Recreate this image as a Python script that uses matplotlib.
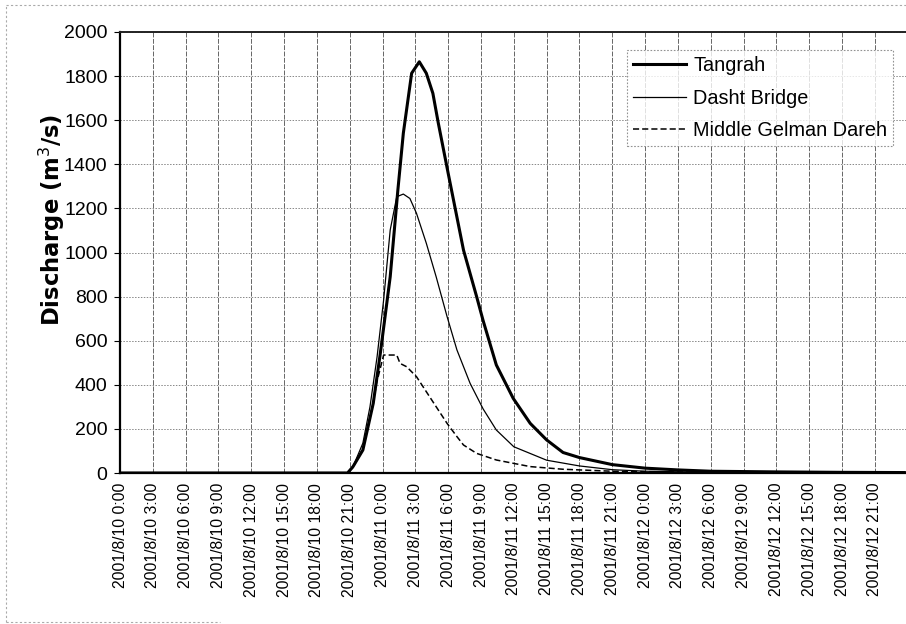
import matplotlib
matplotlib.use("Agg")
import matplotlib.pyplot as plt
from matplotlib.lines import Line2D

plt.rcParams['font.family'] = ['Liberation Sans', 'DejaVu Sans']

# hours since 2001/8/10 0:00
tangrah_h = [0, 20.8, 21.3, 22.2, 23.15, 23.8, 24.7, 25.4, 25.9, 26.66, 27.36, 28.0, 28.6, 29.1,
             30.0, 31.4, 32.6, 33.2, 34.4, 35.95, 37.5, 39, 40.5, 42, 45, 48, 51, 54, 60, 66, 71.7]
tangrah_q = [0, 0, 29, 104, 316, 544, 890, 1283, 1541, 1813, 1865, 1813, 1722, 1586,
             1359, 1011, 800, 690, 490, 338, 225, 150, 93, 70, 38, 22, 14, 8, 5, 3, 2]

dasht_h = [0, 20.8, 21.3, 22.2, 22.85, 23.5, 24.1, 24.7, 25.3, 25.9, 26.5, 27.1, 28.0, 28.9,
           29.9, 30.8, 32.0, 33.2, 34.4, 36.0, 39, 42, 45, 48, 54, 60, 71.7]
dasht_q = [0, 0, 29, 135, 300, 527, 785, 1102, 1253, 1265, 1245, 1178, 1042, 890,
           709, 558, 407, 290, 195, 119, 58, 32, 15, 8, 3, 1, 0]

middle_h = [0, 20.8, 21.3, 22.2, 23.15, 23.45, 24.1, 25.3, 25.6, 26.2, 27.1, 28.3, 29.9,
            30.8, 31.4, 32.6, 34.4, 37.5, 40.5, 45, 54, 71.7]
middle_q = [0, 0, 25, 110, 316, 407, 535, 535, 497, 482, 437, 346, 225,
            165, 127, 89, 59, 29, 17, 8, 3, 0]

tick_hours = list(range(0, 72, 3))
tick_labels = ['2001/8/10 0:00', '2001/8/10 3:00', '2001/8/10 6:00', '2001/8/10 9:00',
               '2001/8/10 12:00', '2001/8/10 15:00', '2001/8/10 18:00', '2001/8/10 21:00',
               '2001/8/11 0:00', '2001/8/11 3:00', '2001/8/11 6:00', '2001/8/11 9:00',
               '2001/8/11 12:00', '2001/8/11 15:00', '2001/8/11 18:00', '2001/8/11 21:00',
               '2001/8/12 0:00', '2001/8/12 3:00', '2001/8/12 6:00', '2001/8/12 9:00',
               '2001/8/12 12:00', '2001/8/12 15:00', '2001/8/12 18:00', '2001/8/12 21:00']

fig = plt.figure(figsize=(9.06, 6.24), dpi=100)
ax = fig.add_axes([120/906, 1-473/624, 786/906, 441/624])

ax.plot(tangrah_h, tangrah_q, color='black', lw=2.2, label='Tangrah', zorder=4)
ax.plot(dasht_h, dasht_q, color='black', lw=0.9, label='Dasht Bridge', zorder=3)
ax.plot(middle_h, middle_q, color='black', lw=1.1, ls=(0, (4, 2)),
        label='Middle Gelman Dareh', zorder=3)

ax.set_xlim(0, 71.85)
ax.set_ylim(0, 2000)
ax.set_yticks(range(0, 2001, 200))
ax.set_xticks(tick_hours)
ax.set_xticklabels(tick_labels, rotation=90, fontsize=11.3)
ax.tick_params(axis='y', labelsize=14, length=4, width=0.8, pad=5)
ax.tick_params(axis='x', length=0, pad=7)

for t in tick_hours[1:]:
    ax.axvline(t, color='#666666', lw=0.7, ls=(0, (5, 1.5)), zorder=1)
for v in range(200, 2001, 200):
    ax.axhline(v, color='#888888', lw=0.7, ls=(0, (1.5, 1.5)), zorder=1)

for s in ['left', 'bottom']:
    ax.spines[s].set_linewidth(1.6)
ax.spines['top'].set_linewidth(1.4)
ax.spines['top'].set_color('#222222')
ax.spines['right'].set_visible(False)

ax.set_ylabel('Discharge (m$^3$/s)', fontsize=16.3, fontweight='bold', family='DejaVu Sans')
ax.yaxis.set_label_coords(-0.067, 0.574)

leg = ax.legend(loc='upper right', bbox_to_anchor=(0.984, 0.96), borderaxespad=0,
                fontsize=14.3, handlelength=2.7, labelspacing=0.7, fancybox=False,
                handletextpad=0.35, borderpad=0.3)
leg.get_frame().set_edgecolor('#777777')
leg.get_frame().set_linestyle((0, (1.5, 1.5)))
leg.get_frame().set_linewidth(0.8)

# faint scanned border of the chart area
fig.add_artist(Line2D([6/906, 1], [1-5/624, 1-5/624], color='#aaaaaa', lw=0.8, ls=(0, (2, 2))))
fig.add_artist(Line2D([6/906, 6/906], [2/624, 1-5/624], color='#aaaaaa', lw=0.8, ls=(0, (2, 2))))
fig.add_artist(Line2D([6/906, 220/906], [2/624, 2/624], color='#aaaaaa', lw=0.8, ls=(0, (2, 2))))

fig.savefig('out.png', dpi=100)
